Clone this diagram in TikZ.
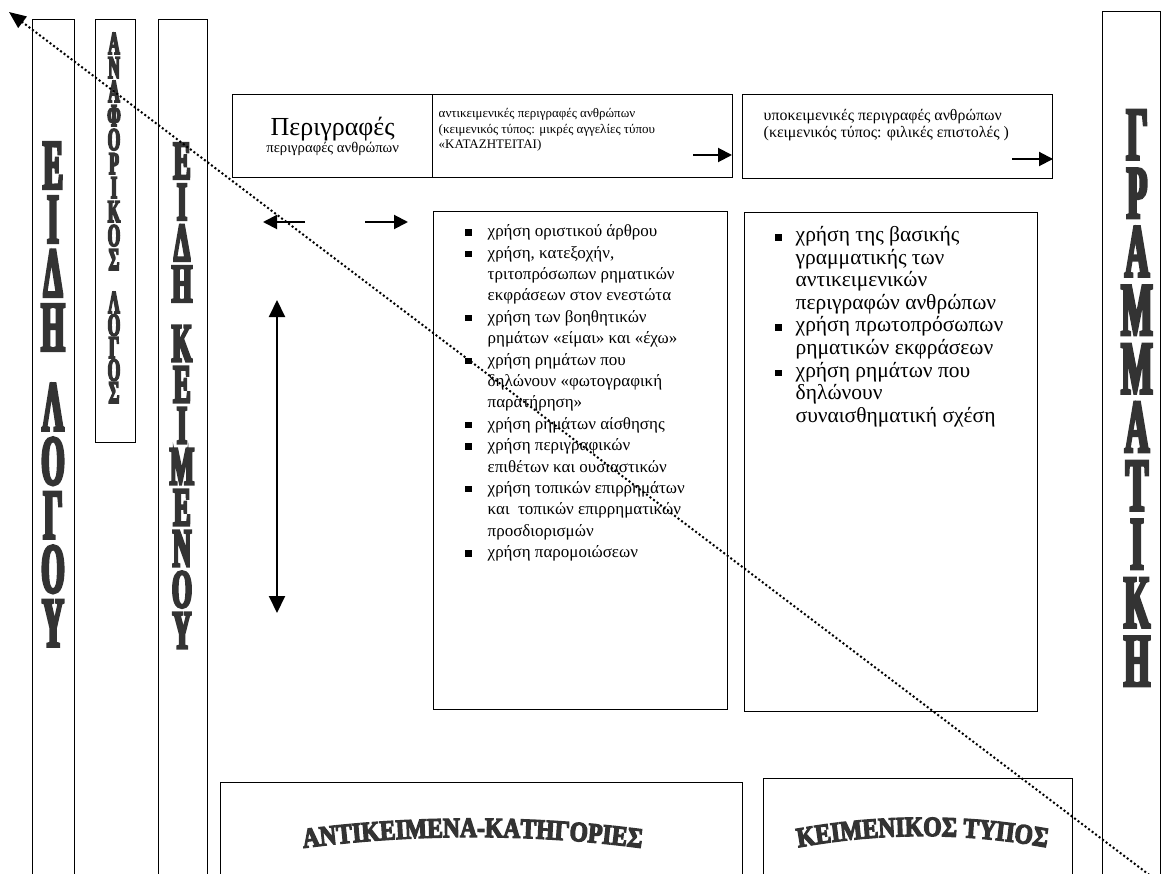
\documentclass[tikz,border=0pt]{standalone}
\usepackage{fontspec}
\setmainfont{Liberation Serif}
% tall condensed capitals for the vertical column titles
\newfontfamily\stackA{Liberation Serif Bold}[FakeStretch=0.42,FakeBold=4]
\newfontfamily\stackB{Liberation Serif Bold}[FakeStretch=0.50,FakeBold=5]
\newfontfamily\stackC{Liberation Serif Bold}[FakeStretch=0.47,FakeBold=4.5]
\newfontfamily\stackD{Liberation Serif Bold}[FakeStretch=0.44,FakeBold=4]
% heavy capitals for the arched headings
\newfontfamily\archfont{Liberation Serif Bold}[FakeStretch=0.84,FakeBold=4.5]
\usetikzlibrary{arrows.meta,decorations.text}

\newcommand\bulletmark{\strut\raisebox{1pt}{\rule{6.5pt}{6.5pt}}}
\newenvironment{squarelist}[2]{%
  \begin{list}{\bulletmark}{%
    \setlength\leftmargin{#1}\setlength\labelsep{#2}%
    \setlength\labelwidth{10pt}\setlength\itemindent{0pt}%
    \setlength\itemsep{0pt}\setlength\parsep{0pt}%
    \setlength\topsep{0pt}\setlength\partopsep{0pt}%
    \setlength\rightmargin{0pt}}\raggedright}
  {\end{list}}

\tikzset{
  frame/.style={draw, line width=1.4pt, inner sep=0pt, anchor=north west},
  stack/.style={align=center, inner sep=0pt, text=black!80},
  arr/.style={line width=2pt, -{Triangle[length=14pt,width=14pt]}},
  darr/.style={line width=2pt, {Triangle[length=17pt,width=16pt]}-{Triangle[length=17pt,width=16pt]}},
  guide/.style={line width=2pt, dash pattern=on 2pt off 2.4pt, -{Triangle[length=17pt,width=14pt]}},
  arch/.style={decorate, decoration={text along path, text align=center, text color=black!80}},
}

\begin{document}
\begin{tikzpicture}[x=1pt, y=-1pt]
\useasboundingbox (0,0) rectangle (1174,874);
\clip (0,0) rectangle (1174,874);

% vertical columns
\node[frame, minimum width=42pt, minimum height=870pt] (colA) at (32,19) {};
\node[frame, minimum width=40pt, minimum height=423pt] (colB) at (95,19) {};
\node[frame, minimum width=49pt, minimum height=870pt] (colC) at (158,19) {};
\node[frame, minimum width=58pt, minimum height=880pt] (colD) at (1102,11) {};

\node[stack, font=\stackA\fontsize{71}{54}\selectfont] (a1) at (53,246.5) {Ε\\Ι\\Δ\\Η};
\node[stack, font=\stackA\fontsize{71}{54}\selectfont] (a2) at (53,515) {Λ\\Ο\\Γ\\Ο\\Υ};
\node[stack, font=\stackB\fontsize{32}{24}\selectfont] (b1) at (114,151.5) {Α\\Ν\\Α\\Φ\\Ο\\Ρ\\Ι\\Κ\\Ο\\Σ};
\node[stack, font=\stackB\fontsize{32}{22.5}\selectfont] (b2) at (114,347.5) {Λ\\Ο\\Γ\\Ο\\Σ};
\node[stack, font=\stackC\fontsize{54.5}{41}\selectfont] (c1) at (182,222.5) {Ε\\Ι\\Δ\\Η};
\node[stack, font=\stackC\fontsize{54.5}{41}\selectfont] (c2) at (182,487) {Κ\\Ε\\Ι\\Μ\\Ε\\Ν\\Ο\\Υ};
\node[stack, font=\stackD\fontsize{75.5}{58.5}\selectfont] (d1) at (1137,398) {Γ\\Ρ\\Α\\Μ\\Μ\\Α\\Τ\\Ι\\Κ\\Η};

% header row
\node[frame, minimum width=200pt, minimum height=83pt, align=center,
      font=\fontsize{14.7}{17}\selectfont] (hdr) at (232,94)
  {{\fontsize{26}{17}\selectfont Περιγραφές}\\περιγραφές ανθρώπων};
\node[frame] (hobj) at (432,94) {\parbox[c][83pt][t]{300pt}{%
  \fontsize{13}{15.5}\selectfont\raggedright\leftskip=6pt\relax
  \vspace*{12pt}\strut αντικειμενικές περιγραφές ανθρώπων\\
  (κειμενικός τύπος: μικρές αγγελίες τύπου\\
  «ΚΑΤΑΖΗΤΕΙΤΑΙ)}};
\node[frame] (hsubj) at (742,94) {\parbox[c][84pt][t]{310pt}{%
  \fontsize{15.9}{17}\selectfont\raggedright\leftskip=21pt\relax
  \vspace*{14pt}\strut υποκειμενικές περιγραφές ανθρώπων\\
  (κειμενικός τύπος: φιλικές επιστολές )}};

% feature lists
\node[frame] (objlist) at (433,211) {\parbox[c][498pt][t]{294pt}{%
  \fontsize{17}{21.4}\selectfont\vspace*{10pt}%
  \begin{squarelist}{54pt}{16pt}
  \item χρήση οριστικού άρθρου
  \item χρήση, κατεξοχήν,\\ τριτοπρόσωπων ρηματικών\\ εκφράσεων στον ενεστώτα
  \item χρήση των βοηθητικών\\ ρημάτων «είμαι» και «έχω»
  \item χρήση ρημάτων που\\ δηλώνουν «φωτογραφική\\ παρατήρηση»
  \item χρήση ρημάτων αίσθησης
  \item χρήση περιγραφικών\\ επιθέτων και ουσιαστικών
  \item χρήση τοπικών επιρρημάτων\\ και~ τοπικών επιρρηματικών\\ προσδιορισμών
  \item χρήση παρομοιώσεων
  \end{squarelist}}};
\node[frame] (subjlist) at (744,212) {\parbox[c][499pt][t]{293pt}{%
  \fontsize{21.5}{22.6}\selectfont\vspace*{13pt}%
  \begin{squarelist}{51pt}{14pt}
  \item χρήση της βασικής\\ γραμματικής των\\ αντικειμενικών\\ περιγραφών ανθρώπων
  \item χρήση πρωτοπρόσωπων\\ ρηματικών εκφράσεων
  \item χρήση ρημάτων που\\ δηλώνουν\\ συναισθηματική σχέση
  \end{squarelist}}};

% bottom boxes with arched headings
\node[frame, minimum width=522pt, minimum height=120pt] (cats) at (220,782) {};
\node[frame, minimum width=309pt, minimum height=120pt] (ttype) at (763,778) {};
\path[arch, decoration={text={|\archfont\fontsize{28}{28}\selectfont|ΑΝΤΙΚΕΙΜΕΝΑ-ΚΑΤΗΓΟΡΙΕΣ}}]
  (296,849) .. controls (410,833) and (535,833) .. (649,849);
\path[arch, decoration={text={|\archfont\fontsize{28}{28}\selectfont|ΚΕΙΜΕΝΙΚΟΣ ΤΥΠΟΣ}}]
  (795,848) .. controls (880,832) and (965,832) .. (1050,848);

% arrows
\coordinate (o1) at (693,155); \coordinate (o2) at (732,155);
\coordinate (s1) at (1012,159); \coordinate (s2) at (1053,159);
\coordinate (l1) at (305,222); \coordinate (l2) at (263,222);
\coordinate (r1) at (365,222); \coordinate (r2) at (408,222);
\coordinate (v1) at (277,300); \coordinate (v2) at (277,613);
\draw[arr] (o1) -- (o2);
\draw[arr] (s1) -- (s2);
\draw[arr] (l1) -- (l2);
\draw[arr] (r1) -- (r2);
\draw[darr] (v1) -- (v2);

% dotted diagonal guide
\coordinate (gtail) at (1160,883);
\coordinate (gtip) at (9,12);
\draw[guide] (gtail) -- (gtip);
\end{tikzpicture}
\end{document}
